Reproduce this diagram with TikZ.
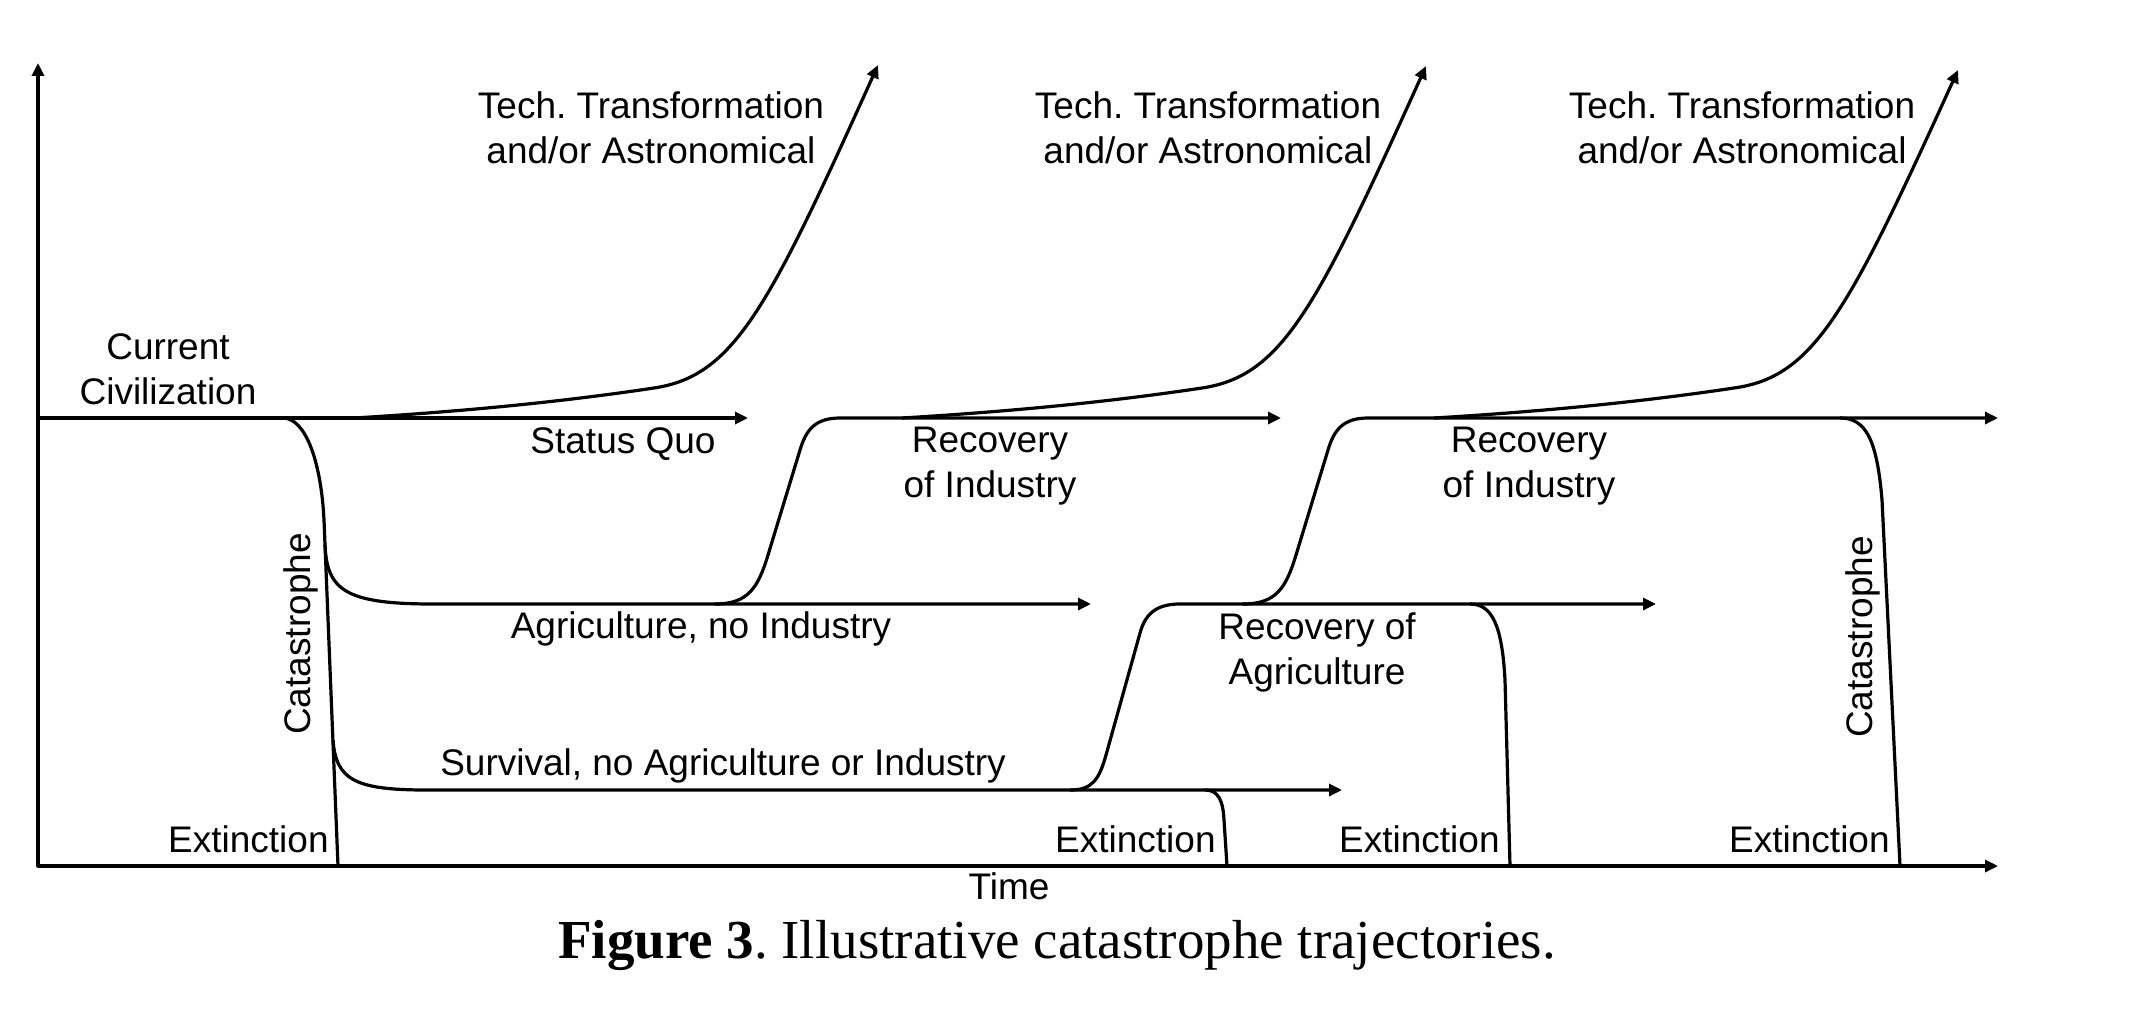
\documentclass[tikz,border=0pt]{standalone}
\usepackage{fontspec}
\setmainfont{Liberation Serif}
\newfontfamily\arialf{Liberation Sans}
\usetikzlibrary{arrows.meta}
\frenchspacing
\begin{document}
\begin{tikzpicture}[x=0.5pt,y=-0.5pt,
  lbl/.style={font=\arialf\fontsize{18.5pt}{22.3pt}\selectfont, inner sep=0pt, align=center, anchor=base},
  ext/.style={lbl, anchor=base east},
  trk/.style={line width=1.6pt, line join=round, line cap=butt},
  tip/.style={-{Triangle[length=6.5pt,width=6pt]}},
]
\useasboundingbox (0,0) rectangle (2134,1022);

% axes
\coordinate (ytop) at (38,63);
\coordinate (O) at (38,866);
\coordinate (xend) at (1998,866);
\draw[trk, {Triangle[length=6.5pt,width=6pt]}-{Triangle[length=6.5pt,width=6pt]}] (ytop) -- (O) -- (xend);

% status quo lines
\coordinate (sq1a) at (38,418);
\coordinate (sq1b) at (748,418);
\draw[trk,tip] (sq1a) -- (sq1b);

% tech transformation curves
\draw[trk,tip] (354,418) .. controls (454,412) and (554,403) .. (654,388)
  .. controls (734,376) and (768,309) .. (878,65);
\draw[trk,tip] (902,418) .. controls (1002,412) and (1102,403) .. (1202,388)
  .. controls (1282,376) and (1316,309) .. (1426,66);
\draw[trk,tip] (1434,418) .. controls (1534,412) and (1634,403) .. (1734,388)
  .. controls (1814,377) and (1848,312) .. (1958,70);

% first catastrophe
\draw[trk] (283,418) .. controls (305,418) and (321,460) .. (324,520) -- (338,866);
\draw[trk,tip] (325,545) .. controls (327,590) and (345,604) .. (433,604) -- (1091,604);
\draw[trk,tip] (333,740) .. controls (336,780) and (355,790) .. (427,790) -- (1342,790);

% recoveries
\draw[trk,tip] (715,604) .. controls (748,604) and (758,588) .. (768,555) -- (800,450)
  .. controls (806,430) and (815,418) .. (840,418) -- (1281,418);
\draw[trk,tip] (1070,790) .. controls (1092,790) and (1099,780) .. (1106,755) -- (1140,633)
  .. controls (1145,615) and (1155,604) .. (1180,604) -- (1656,604);
\draw[trk,tip] (1243,604) .. controls (1276,604) and (1286,588) .. (1296,555) -- (1328,450)
  .. controls (1334,430) and (1343,418) .. (1368,418) -- (1998,418);

% extinctions / catastrophe
\draw[trk] (1205,790) .. controls (1218,790) and (1223,800) .. (1224,820) -- (1227,866);
\draw[trk] (1470,604) .. controls (1492,604) and (1502,625) .. (1505,680) -- (1510,866);
\draw[trk] (1840,418) .. controls (1866,418) and (1877,440) .. (1882,500) -- (1900,866);

% labels (multi-line nodes: base = last line)
\node[lbl] (t1) at (651,163) {Tech. Transformation\\and/or Astronomical};
\node[lbl] (t2) at (1208,163) {Tech. Transformation\\and/or Astronomical};
\node[lbl] (t3) at (1742,163) {Tech. Transformation\\and/or Astronomical};
\node[lbl] (cur) at (168,404) {Current\\Civilization};
\node[lbl] (sq) at (623,453) {Status Quo};
\node[lbl] (ri1) at (990,497) {Recovery\\of Industry};
\node[lbl] (ri2) at (1529,497) {Recovery\\of Industry};
\node[lbl] (agr) at (701,638) {Agriculture, no Industry};
\node[lbl] (sur) at (723,775) {Survival, no Agriculture or Industry};
\node[lbl] (ra) at (1317,684) {Recovery of\\Agriculture};
\node[ext] (ex1) at (329,852) {Extinction};
\node[ext] (ex2) at (1216,852) {Extinction};
\node[ext] (ex3) at (1500,852) {Extinction};
\node[ext] (ex4) at (1890,852) {Extinction};
\node[lbl] (time) at (1009,899) {Time};
\node[lbl, rotate=90] (cat1) at (310,634) {Catastrophe};
\node[lbl, rotate=90] (cat2) at (1872,637) {Catastrophe};
\node[inner sep=0pt, anchor=base, font=\fontsize{27.5pt}{33pt}\selectfont] (cap) at (1057,958)
  {\textbf{Figure 3}. Illustrative catastrophe trajectories.};
\end{tikzpicture}
\end{document}
